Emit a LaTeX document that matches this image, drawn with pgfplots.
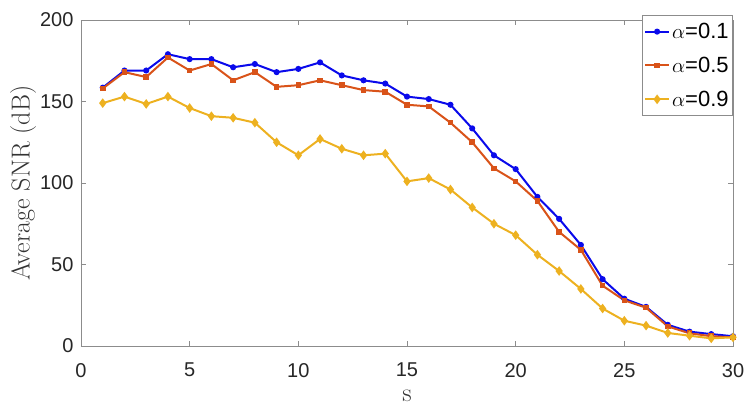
\documentclass[border=0pt]{standalone}
\usepackage{pgfplots}
\pgfplotsset{compat=1.18}
\usepackage{fontspec}
\newfontfamily\arial{Liberation Sans}

\definecolor{mblue}{RGB}{10,10,235}
\definecolor{mred}{RGB}{217,83,25}
\definecolor{myellow}{RGB}{237,177,32}
\definecolor{axgray}{RGB}{140,140,140}

\begin{document}
\begin{tikzpicture}
\useasboundingbox (-81pt,-59pt) rectangle (666pt,346pt);
\begin{axis}[
  at={(0,0)}, anchor=origin,
  scale only axis,
  width=652pt, height=326pt,
  xmin=0, xmax=30, ymin=0, ymax=200,
  xtick={0,5,...,30},
  ytick={0,50,...,200},
  tick align=inside,
  major tick length=5pt,
  axis line style={axgray, line width=0.8pt},
  tick style={axgray, line width=0.8pt},
  /pgf/number format/assume math mode=true,
  tick label style={font=\arial\fontsize{20}{22}\selectfont, black!85},
  xticklabel style={inner sep=1pt, yshift=-16pt},
  yticklabel style={xshift=-4pt},
  xlabel={s},
  ylabel={Average SNR (dB)},
  label style={font=\fontsize{26}{28}\selectfont, black!80},
  xlabel style={at={(axis description cs:0.5,0)}, anchor=base, yshift=-55pt, inner sep=0.5pt},
  ylabel style={yshift=-3pt},
  legend style={at={(1,1.016)}, anchor=north east,
    draw=axgray, line width=0.8pt,
    font=\arial\fontsize{22}{24}\selectfont,
    row sep=13pt, inner xsep=2pt, inner ysep=6pt,
    cells={anchor=west}},
  legend cell align=left,
  legend image code/.code={
    \draw[mark repeat=2, mark phase=2, #1]
      plot coordinates {(0pt,0pt) (12pt,0pt) (24pt,0pt)};
  },
  every axis plot/.append style={line width=2pt},
]
\addplot[mblue, mark=*, mark size=2pt] coordinates {
  (1,158.5)(2,169)(3,169)(4,179)(5,176)(6,176)(7,171)(8,173)(9,168)(10,170)
  (11,174)(12,166)(13,163)(14,161)(15,153)(16,151.5)(17,148)(18,133.5)(19,117)(20,108.5)
  (21,91.5)(22,78)(23,62)(24,41)(25,29)(26,24)(27,13)(28,8.8)(29,7.3)(30,6)
};
\addplot[mred, mark=square*, mark size=1.8pt] coordinates {
  (1,158)(2,168)(3,165)(4,177)(5,169)(6,173)(7,163)(8,168)(9,159)(10,160)
  (11,163)(12,160)(13,157)(14,156)(15,148)(16,147)(17,137)(18,125)(19,109)(20,101)
  (21,89)(22,70)(23,59)(24,37)(25,28)(26,23.5)(27,12)(28,7.8)(29,6)(30,5.3)
};
\addplot[myellow, mark=diamond*, mark size=3.2pt] coordinates {
  (1,149)(2,153)(3,148.5)(4,153)(5,146)(6,141)(7,140)(8,137)(9,125)(10,117)
  (11,127)(12,121)(13,117)(14,118)(15,101)(16,103)(17,96)(18,85)(19,75)(20,68)
  (21,56)(22,46)(23,35)(24,23)(25,15.5)(26,12.5)(27,8)(28,6.3)(29,4.7)(30,5.3)
};
\legend{{$\alpha$=0.1},{$\alpha$=0.5},{$\alpha$=0.9}}
\end{axis}
\end{tikzpicture}
\end{document}
